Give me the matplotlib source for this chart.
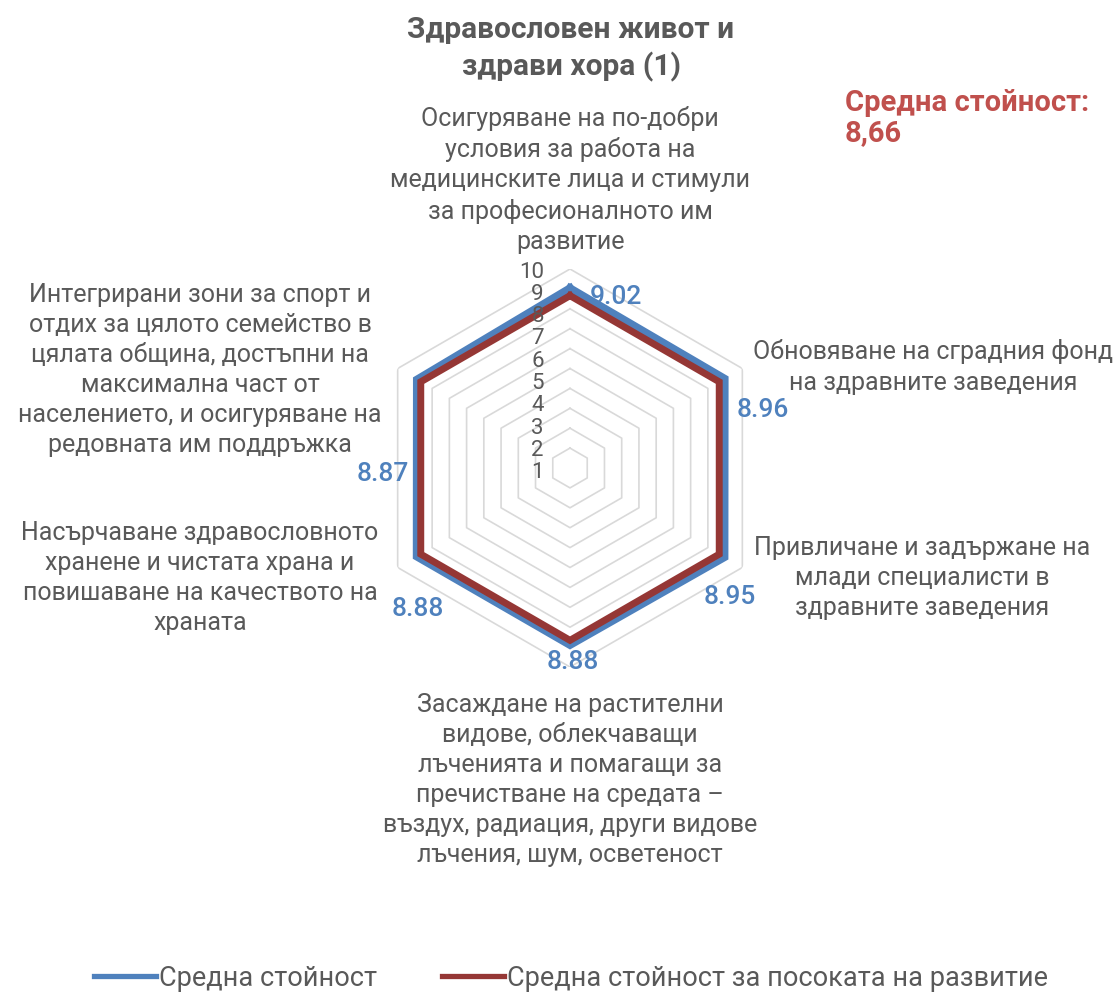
import matplotlib
matplotlib.use("Agg")
import matplotlib.pyplot as plt
import numpy as np

plt.rcParams['font.family'] = ['Roboto', 'DejaVu Sans']

categories = [
    "Осигуряване на по-добри\nусловия за работа на\nмедицинските лица и стимули\nза професионалното им\nразвитие",
    "Обновяване на сградния фонд\nна здравните заведения",
    "Привличане и задържане на\nмлади специалисти в\nздравните заведения",
    "Засаждане на растителни\nвидове, облекчаващи\nлъченията и помагащи за\nпречистване на средата –\nвъздух, радиация, други видове\nлъчения, шум, осветеност",
    "Насърчаване здравословното\nхранене и чистата храна и\nповишаване на качеството на\nхраната",
    "Интегрирани зони за спорт и\nотдих за цялото семейство в\nцялата община, достъпни на\nмаксимална част от\nнаселението, и осигуряване на\nредовната им поддръжка",
]
mean_values = [9.02, 8.96, 8.95, 8.88, 8.88, 8.87]
direction_values = [8.66, 8.66, 8.66, 8.66, 8.66, 8.66]
value_labels = ["9.02", "8.96", "8.95", "8.88", "8.88", "8.87"]
radial_ticks = [1, 2, 3, 4, 5, 6, 7, 8, 9, 10]
series_names = ["Средна стойност", "Средна стойност за посоката на развитие"]
title_text = "Здравословен живот и\nздрави хора (1)"
note_text = "Средна стойност:\n8,66"

W, H = 1117, 992
BLUE = "#4F81BD"
RED = "#953735"
GRID = "#D9D9D9"
TXT = "#595959"

fig = plt.figure(figsize=(W / 100, H / 100), dpi=100)

cx, cy, R = 570, 468, 199
ax = fig.add_axes([(cx - R) / W, 1 - (cy + R) / H, 2 * R / W, 2 * R / H], projection='polar')
ax.set_theta_zero_location('N')
ax.set_theta_direction(-1)
ax.set_ylim(0, 10)
ax.grid(False)
ax.spines['polar'].set_visible(False)
ax.set_xticks([])
ax.set_yticks([])
ax.patch.set_alpha(0)

n = len(categories)
theta = np.linspace(0, 2 * np.pi, n, endpoint=False)
theta_c = np.append(theta, theta[0])

for r in radial_ticks:
    ax.plot(theta_c, [r] * (n + 1), color=GRID, lw=1.2, zorder=1)

bv = mean_values + mean_values[:1]
rv = direction_values + direction_values[:1]
ax.plot(theta_c, bv, color=BLUE, lw=6.0, zorder=3, solid_joinstyle='miter',
        label=series_names[0])
ax.plot(theta_c, rv, color=RED, lw=5.0, zorder=4, solid_joinstyle='miter',
        label=series_names[1])

# value labels
offsets = [(46, -8), (38, -31), (6, -40), (3, -17), (1, -53), (-34, -94)]
for t, v, lab, off in zip(theta, mean_values, value_labels, offsets):
    ax.annotate(lab, xy=(t, v), xytext=off, textcoords='offset pixels',
                ha='center', va='center', color=BLUE, fontsize=19,
                fontweight='medium', zorder=6, annotation_clip=False)

# radial tick labels
for k in radial_ticks:
    y = 272 + (10 - k) * 22.3
    fig.text(544 / W, 1 - y / H, str(k), ha='right', va='center',
             fontsize=16, color=TXT, zorder=5)

# category labels
cat_pos = [(570, 180), (933, 367), (922, 578), (570, 780), (200, 578), (200, 370)]
for lab, (x, y) in zip(categories, cat_pos):
    fig.text(x / W, 1 - y / H, lab, ha='center', va='center', fontsize=18,
             color=TXT, linespacing=1.32)

fig.text(571 / W, 1 - 49 / H, title_text, ha='center', va='center', fontsize=21.5,
         fontweight='bold', color=TXT, linespacing=1.3)
fig.text(845 / W, 1 - 118 / H, note_text, ha='left', va='center', fontsize=21,
         fontweight='bold', color="#C0504D", linespacing=1.12)

handles, labels = ax.get_legend_handles_labels()
leg = fig.legend(handles, labels, loc='center', bbox_to_anchor=(571 / W, 1 - 978 / H),
                 ncol=2, frameon=False, fontsize=19.5, handlelength=2.3,
                 handletextpad=0.1, columnspacing=2.4, labelcolor=TXT)
for line in leg.get_lines():
    line.set_linewidth(3.8)

fig.savefig("out.png", dpi=100)
